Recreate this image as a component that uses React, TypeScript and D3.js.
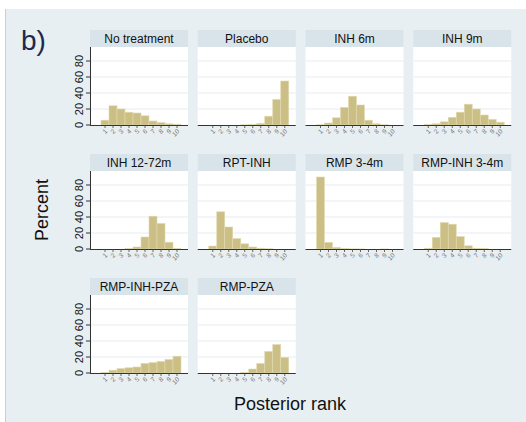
import React from "react";
import * as d3 from "d3";

const panelTitles: string[] = [
  "No treatment", "Placebo", "INH 6m", "INH 9m",
  "INH 12-72m", "RPT-INH", "RMP 3-4m", "RMP-INH 3-4m",
  "RMP-INH-PZA", "RMP-PZA",
];

const ranks: number[] = [1, 2, 3, 4, 5, 6, 7, 8, 9, 10];

const noTreatment = [6, 24, 20, 16, 15, 11.5, 5, 3, 1.5, 1];
const placebo = [0, 0, 0, 0, 0.3, 0.6, 2, 11, 32, 55];
const inh6m = [0.3, 2.5, 9, 22, 36, 25, 6, 1.5, 0.3, 0];
const inh9m = [0.5, 1.5, 4, 9.5, 16, 26, 20, 12.5, 7, 3.5];
const inh1272m = [0, 0, 0, 0.5, 2.5, 15, 41, 32, 8.5, 0.5];
const rptInh = [3.7, 46.5, 27.5, 13, 6.5, 2.5, 1, 0.3, 0, 0];
const rmp34m = [90, 8.3, 2, 0.5, 0.2, 0.1, 0, 0, 0.1, 0];
const rmpInh34m = [1, 14.5, 33, 31, 15.5, 4, 1, 0.5, 0, 0];
const rmpInhPza = [0.8, 3.5, 5.5, 6.5, 7.5, 12, 13, 14.5, 17, 21];
const rmpPza = [0, 0, 0, 0, 0.5, 5, 12, 27, 35.5, 19.5];

const seriesList: number[][] = [
  noTreatment, placebo, inh6m, inh9m,
  inh1272m, rptInh, rmp34m, rmpInh34m,
  rmpInhPza, rmpPza,
];

const yTicks: number[] = [0, 20, 40, 60, 80];

const W = 526;
const H = 422;
const FONT = "'Liberation Sans', Arial, Helvetica, sans-serif";

export default function App() {
  const panelW = 98;
  const headerH = 17;
  const plotH = 78;
  const colLeft = (c: number) => 90 + c * 107.75;
  const rowTop = (r: number) => 30 + r * 124;

  const x = d3.scaleLinear().domain([-0.875, 11.375]).range([0, panelW]);
  const y = d3.scaleLinear().domain([0, 97.5]).range([plotH, 0]);

  return (
    <svg
      width={W}
      height={H}
      style={{ position: "absolute", left: 0, top: 0 }}
      fontFamily={FONT}
    >
      <rect x={0} y={0} width={W} height={H} fill="#ffffff" />
      <rect x={5} y={9} width={W - 5} height={H - 9} fill="#e8eff2" />
      <line x1={5.5} y1={9} x2={5.5} y2={H} stroke="#c9cfd3" strokeWidth={1} />
      <text x={21} y={50} fontSize={28} fill="#1c2a4c">b)</text>
      <text
        transform={`translate(48,210) rotate(-90)`}
        textAnchor="middle"
        fontSize={18}
        fill="#111"
      >
        Percent
      </text>
      <text x={290} y={410} textAnchor="middle" fontSize={18} fill="#111">
        Posterior rank
      </text>
      {seriesList.map((vals, i) => {
        const r = Math.floor(i / 4);
        const c = i % 4;
        const left = colLeft(c);
        const top = rowTop(r);
        const py = top + headerH;
        return (
          <g key={i}>
            <rect x={left} y={top} width={panelW} height={headerH} fill="#d8e4ea" />
            <text
              x={left + panelW / 2}
              y={top + 12.5}
              textAnchor="middle"
              fontSize={12}
              fill="#111"
            >
              {panelTitles[i]}
            </text>
            <g transform={`translate(${left},${py})`}>
              <rect x={0} y={0} width={panelW} height={plotH} fill="#ffffff" />
              {yTicks.slice(1).map((t) => (
                <line
                  key={t}
                  x1={0}
                  x2={panelW}
                  y1={y(t)}
                  y2={y(t)}
                  stroke="#e6eef2"
                  strokeWidth={1.2}
                />
              ))}
              {ranks.map((rk, j) => (
                <rect
                  key={rk}
                  x={x(rk - 0.5)}
                  y={y(vals[j])}
                  width={x(rk + 0.5) - x(rk - 0.5)}
                  height={plotH - y(vals[j])}
                  fill="#cbbf86"
                  stroke="#e2dab0"
                  strokeWidth={0.6}
                />
              ))}
              <line x1={0} x2={panelW} y1={plotH + 0.5} y2={plotH + 0.5} stroke="#333" strokeWidth={1} />
              {ranks.map((rk) => (
                <g key={rk} transform={`translate(${x(rk)},${plotH})`}>
                  <line x1={0} x2={0} y1={0} y2={3} stroke="#444" strokeWidth={0.8} />
                  <text
                    transform="translate(1,5) rotate(-45)"
                    textAnchor="end"
                    dominantBaseline="central"
                    fontSize={6.5}
                    fill="#777"
                  >
                    {rk}
                  </text>
                </g>
              ))}
              {c === 0 && (
                <g>
                  <line x1={0.5} x2={0.5} y1={0} y2={plotH + 1} stroke="#333" strokeWidth={1} />
                  {yTicks.map((t) => (
                    <g key={t} transform={`translate(0,${y(t)})`}>
                      <line x1={-4} x2={0} y1={0} y2={0} stroke="#333" strokeWidth={1} />
                      <text
                        transform="translate(-11,0) rotate(-90)"
                        textAnchor="middle"
                        dominantBaseline="central"
                        fontSize={11}
                        fill="#111"
                      >
                        {t}
                      </text>
                    </g>
                  ))}
                </g>
              )}
            </g>
          </g>
        );
      })}
    </svg>
  );
}
